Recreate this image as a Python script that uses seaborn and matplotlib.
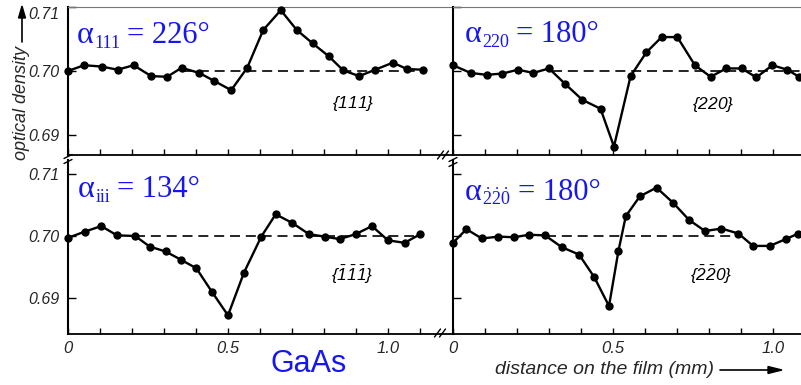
import matplotlib
matplotlib.use("Agg")
import matplotlib.pyplot as plt
import seaborn as sns
import pandas as pd
from matplotlib.lines import Line2D

# ---------------- data ----------------
tl_x = [0.0, 0.05, 0.105, 0.155, 0.205, 0.26, 0.31, 0.355, 0.41, 0.455, 0.51, 0.56,
        0.61, 0.665, 0.715, 0.765, 0.815, 0.86, 0.91, 0.96, 1.015, 1.06, 1.11]
tl_y = [0.7000, 0.7009, 0.7007, 0.7002, 0.7009, 0.6992, 0.6991, 0.7005, 0.6997, 0.6985,
        0.6970, 0.7005, 0.7064, 0.7095, 0.7064, 0.7043, 0.7023, 0.7001, 0.6992, 0.7002,
        0.7013, 0.7003, 0.7002]

tr_x = [0.0, 0.055, 0.105, 0.154, 0.203, 0.251, 0.300, 0.35, 0.404, 0.461, 0.503, 0.555,
        0.604, 0.652, 0.701, 0.756, 0.805, 0.854, 0.902, 0.948, 0.998, 1.045, 1.081]
tr_y = [0.7009, 0.6997, 0.6994, 0.6996, 0.7002, 0.6997, 0.7004, 0.6980, 0.6955, 0.6941,
        0.6882, 0.6992, 0.7029, 0.7053, 0.7053, 0.7009, 0.6991, 0.7004, 0.7004, 0.6990,
        0.7009, 0.7002, 0.6991]

bl_x = [0.0, 0.052, 0.104, 0.153, 0.21, 0.255, 0.305, 0.352, 0.401, 0.451, 0.50, 0.55,
        0.604, 0.649, 0.701, 0.753, 0.802, 0.849, 0.899, 0.95, 1.0, 1.052, 1.101]
bl_y = [0.6997, 0.7007, 0.7016, 0.7001, 0.7000, 0.6983, 0.6975, 0.6962, 0.6948, 0.6909,
        0.6872, 0.6941, 0.6999, 0.7035, 0.7021, 0.7003, 0.6999, 0.6995, 0.7003, 0.7016,
        0.6993, 0.6989, 0.7003]

br_x = [0.0, 0.042, 0.090, 0.142, 0.191, 0.2375, 0.2875, 0.34, 0.394, 0.441, 0.4875,
        0.517, 0.54, 0.584, 0.636, 0.689, 0.7375, 0.7875, 0.839, 0.892, 0.9375, 0.99,
        1.04, 1.079]
br_y = [0.6989, 0.7011, 0.6996, 0.6999, 0.6998, 0.7002, 0.7001, 0.6982, 0.6970, 0.6934,
        0.6887, 0.6976, 0.7032, 0.7064, 0.7078, 0.7053, 0.7026, 0.7008, 0.7012, 0.7004,
        0.6984, 0.6984, 0.6995, 0.7004]

baseline_value = 0.70
baseline_spans = {"tl": (0.36, 1.09), "tr": (0.31, 1.09), "bl": (0.21, 1.08), "br": (0.29, 0.89)}

alpha_subscripts = {
    "tl": "111",
    "tr": "220",
    "bl": "iii",
    "br": r"$\dot{\mathrm{2}}\dot{\mathrm{2}}\dot{\mathrm{0}}$",
}
alpha_values = {"tl": "= 226°", "tr": "= 180°", "bl": "= 134°", "br": "= 180°"}
miller_labels = {
    "tl": r"$\mathsf{\{111\}}$",
    "tr": r"$\mathsf{\{220\}}$",
    "bl": r"$\mathsf{\{\bar{1}\bar{1}\bar{1}\}}$",
    "br": r"$\mathsf{\{\bar{2}\bar{2}0\}}$",
}
y_ticks = [0.69, 0.70, 0.71]
y_ticklabels = ["0.69", "0.70", "0.71"]
x_ticks_left = [0.0, 0.1, 0.2, 0.3, 0.4, 0.5, 0.6, 0.7, 0.8, 0.9, 1.0, 1.1]
x_ticks_right = [0.0, 0.1, 0.2, 0.3, 0.4, 0.5, 0.6, 0.7, 0.8, 0.9, 1.0]
x_labelled = {0.0: "0", 0.5: "0.5", 1.0: "1.0"}

# ---------------- style ----------------
sns.set_theme(style="white")
plt.rcParams["font.family"] = ["Liberation Sans", "DejaVu Sans"]
plt.rcParams["mathtext.fontset"] = "custom"
plt.rcParams["mathtext.rm"] = "Liberation Serif"
plt.rcParams["mathtext.it"] = "Liberation Serif:italic"
plt.rcParams["mathtext.sf"] = "Liberation Sans:italic"
plt.rcParams["mathtext.bf"] = "Liberation Serif:bold"

BLUE = "#1616f2"
W, H = 801, 385
fig = plt.figure(figsize=(W / 100, H / 100), dpi=100)
renderer = fig.canvas.get_renderer()

def frac_box(x0, x1, ytop, ybot):
    return [x0 / W, (H - ybot) / H, (x1 - x0) / W, (ybot - ytop) / H]

axes = {
    "tl": fig.add_axes(frac_box(68, 453, 7, 155)),
    "tr": fig.add_axes(frac_box(453, 801, 7, 155)),
    "bl": fig.add_axes(frac_box(68, 453, 160, 334)),
    "br": fig.add_axes(frac_box(453, 801, 160, 334)),
}
data = {"tl": (tl_x, tl_y), "tr": (tr_x, tr_y), "bl": (bl_x, bl_y), "br": (br_x, br_y)}
ylims = {"top": (0.70 - 84 / 6400, 0.7100), "bot": (0.70 - 98 / 6200, 0.70 + 76 / 6200)}
xlims = {"l": (0.0, 385 / 320), "r": (0.0, 348 / 320)}

# alpha label anchor: (left x px, baseline y px)
alpha_pos = {"tl": (77, 43), "tr": (465, 42), "bl": (78, 197), "br": (465, 200)}
miller_pos = {"tl": (0.74, 0.35), "tr": (0.747, 0.34), "bl": (0.738, 0.34), "br": (0.741, 0.34)}

for key, ax in axes.items():
    xs, ys = data[key]
    df = pd.DataFrame({"x": xs, "y": ys})
    sns.lineplot(data=df, x="x", y="y", ax=ax, color="black", lw=1.7, marker="o",
                 markersize=6, markeredgewidth=0, sort=False, clip_on=False, zorder=3)
    x0, x1 = baseline_spans[key]
    ax.plot([x0, x1], [baseline_value, baseline_value], color="black", lw=1.2,
            dashes=(6, 3.5), zorder=2)
    top = key[0] == "t"
    left = key[1] == "l"
    ax.set_ylim(*(ylims["top"] if top else ylims["bot"]))
    ax.set_xlim(*(xlims["l"] if left else xlims["r"]))
    ax.set_xlabel("")
    ax.set_ylabel("")
    ax.set_facecolor("none")
    ax.spines["right"].set_visible(False)
    ax.spines["top"].set_color("#777777")
    ax.spines["top"].set_linewidth(0.8 if top else 0)
    ax.spines["left"].set_linewidth(1.5)
    ax.spines["left"].set_color("black")
    ax.spines["bottom"].set_linewidth(1.3)
    ax.spines["bottom"].set_color("black")

    xt = x_ticks_left if left else x_ticks_right
    ax.set_xticks(xt)
    if top:
        ax.set_xticklabels([""] * len(xt))
    else:
        ax.set_xticklabels([x_labelled.get(round(t, 2), "") for t in xt])
    ax.set_yticks(y_ticks)
    ax.set_yticklabels(y_ticklabels if left else [""] * 3)
    ax.tick_params(axis="x", direction="in", length=4.5, width=1.0, color="black",
                   pad=5, labelsize=12, bottom=True, top=False)
    ax.tick_params(axis="y", direction="in", length=5.5, width=1.0, color="black",
                   pad=6, labelsize=11.5, left=True, right=False)
    for lab in ax.get_xticklabels() + ax.get_yticklabels():
        lab.set_fontstyle("italic")
    if top and left:
        ax.get_yticklabels()[-1].set_va("top")

    ax.text(*miller_pos[key], miller_labels[key], transform=ax.transAxes, color="black",
            fontsize=12.5, ha="center", va="center")

    # alpha label built from pieces: alpha, small subscript, "= value"
    px, py = alpha_pos[key]
    t1 = fig.text(px / W, (H - py) / H, "α", color=BLUE, fontsize=23,
                  family="Liberation Serif", ha="left", va="baseline")
    bb1 = t1.get_window_extent(renderer)
    t2 = fig.text((bb1.x1 + 0.5) / W, (H - py - 5) / H, alpha_subscripts[key], color=BLUE,
                  fontsize=13, family="Liberation Serif", ha="left", va="baseline")
    bb2 = t2.get_window_extent(renderer)
    fig.text((bb2.x1 + 7) / W, (H - py) / H, alpha_values[key], color=BLUE, fontsize=22,
             family="Liberation Serif", ha="left", va="baseline")

# break marks ("//") in figure pixels
def brk(xc, yc, horizontal=True):
    for d in (-2.5, 2.5):
        if horizontal:
            xs = [xc + d - 3, xc + d + 3]
            ys = [yc + 4, yc - 4]
        else:
            xs = [xc - 4, xc + 4]
            ys = [yc + d + 2, yc + d - 2]
        fig.add_artist(Line2D([x / W for x in xs], [(H - y) / H for y in ys],
                              color="black", lw=1.0))

brk(443, 155)
brk(440, 333)
brk(68, 159, horizontal=False)
brk(453, 162, horizontal=False)

# axis labels
fig.text(22 / W, (H - 103) / H, "optical density", rotation=90, ha="center", va="center",
         fontsize=13, fontstyle="italic")
fig.add_artist(Line2D([22 / W, 22 / W], [(H - 42) / H, (H - 18) / H], color="black", lw=1.2))
fig.add_artist(plt.Polygon([[18.5 / W, (H - 18) / H], [25.5 / W, (H - 18) / H],
                            [22 / W, (H - 6) / H]], closed=True, color="black",
                           transform=fig.transFigure))

fig.text(495 / W, (H - 370) / H, "distance on the film (mm)", ha="left", va="center",
         fontsize=14, fontstyle="italic")
fig.add_artist(Line2D([720 / W, 770 / W], [(H - 370) / H, (H - 370) / H], color="black", lw=1.2))
fig.add_artist(plt.Polygon([[768 / W, (H - 366.5) / H], [768 / W, (H - 373.5) / H],
                            [782 / W, (H - 370) / H]], closed=True, color="black",
                           transform=fig.transFigure))

fig.text(309 / W, (H - 364) / H, "GaAs", ha="center", va="center", fontsize=22, color=BLUE)

fig.savefig("out.png", dpi=100)
